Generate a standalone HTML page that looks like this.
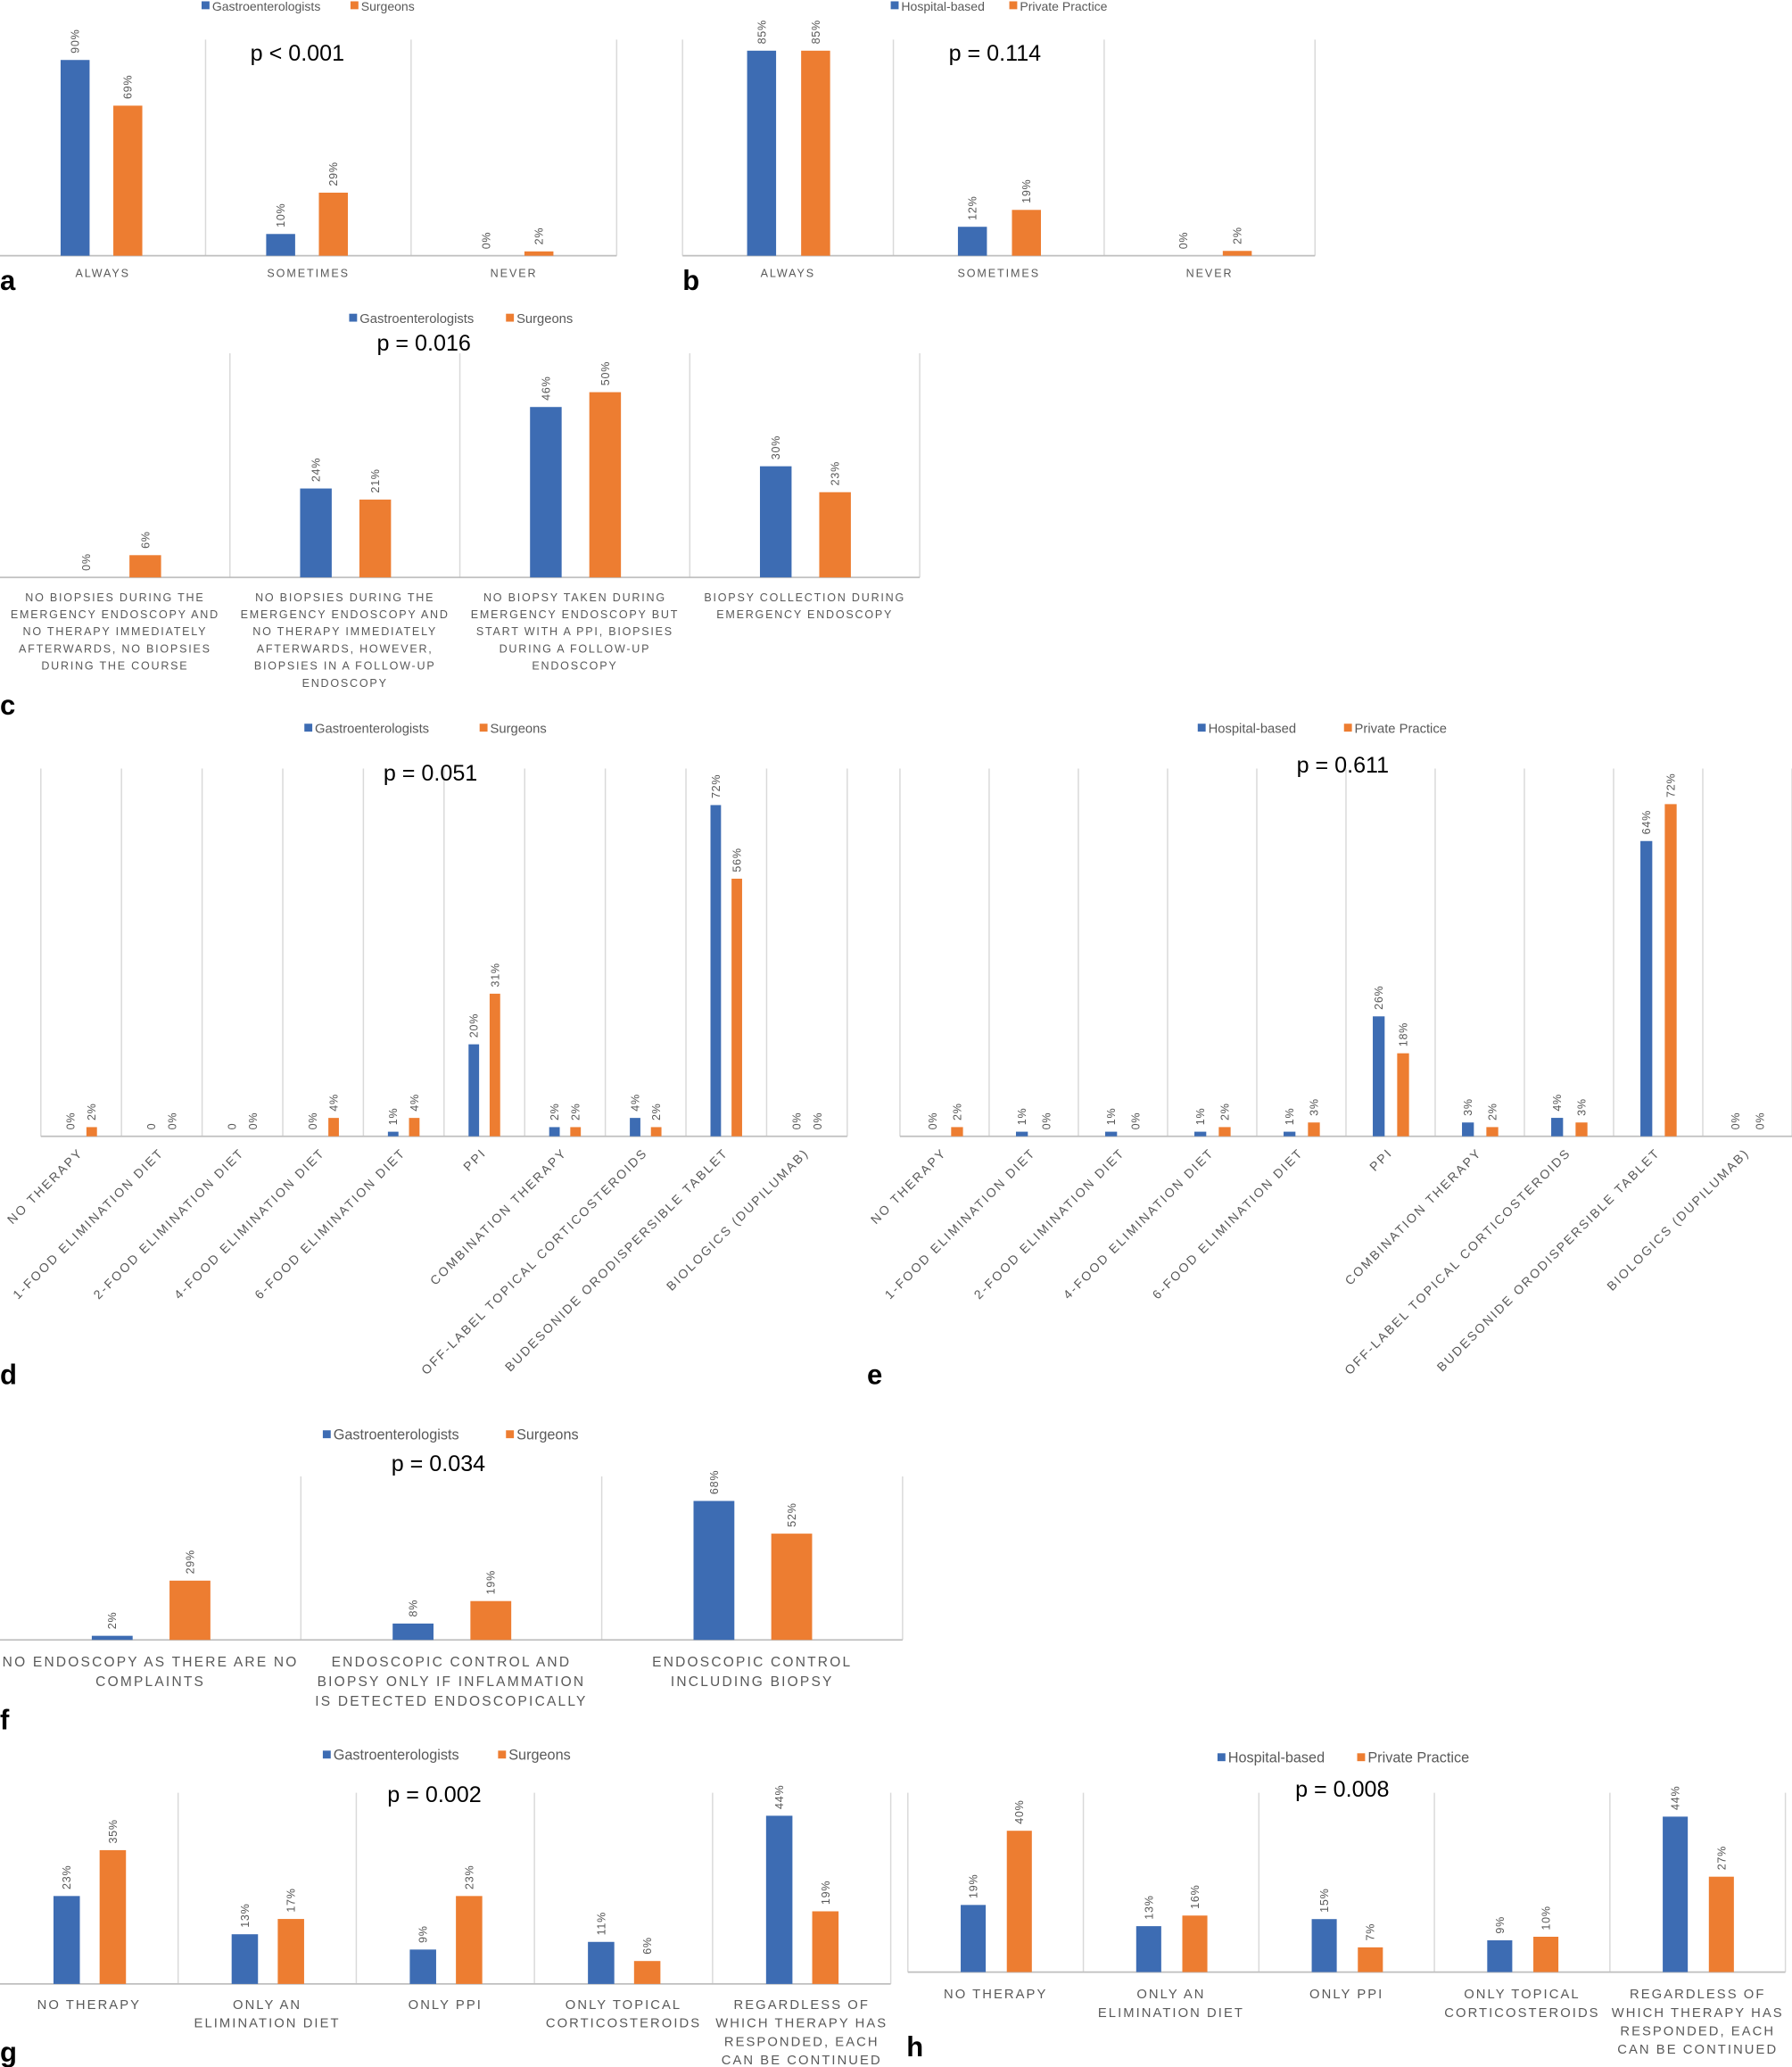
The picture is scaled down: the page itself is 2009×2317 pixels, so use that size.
<!DOCTYPE html>
<html><head><meta charset="utf-8"><style>
html,body{margin:0;padding:0;background:#fff;}
svg{display:block;font-family:"Liberation Sans",sans-serif;}
</style></head><body>
<svg id="fig" width="2009" height="2317" viewBox="0 0 1360 1568" preserveAspectRatio="none" xmlns="http://www.w3.org/2000/svg"></svg>
<script>
// ---- data ----
const aCats = ["ALWAYS","SOMETIMES","NEVER"];
const aBlue = [90,10,0];
const aOrange = [69,29,2];
const bCats = ["ALWAYS","SOMETIMES","NEVER"];
const bBlue = [85,12,0];
const bOrange = [85,19,2];
const cCats = ["NO BIOPSIES DURING THE|EMERGENCY ENDOSCOPY AND|NO THERAPY IMMEDIATELY|AFTERWARDS, NO BIOPSIES|DURING THE COURSE","NO BIOPSIES DURING THE|EMERGENCY ENDOSCOPY AND|NO THERAPY IMMEDIATELY|AFTERWARDS, HOWEVER,|BIOPSIES IN A FOLLOW-UP|ENDOSCOPY","NO BIOPSY TAKEN DURING|EMERGENCY ENDOSCOPY BUT|START WITH A PPI, BIOPSIES|DURING A FOLLOW-UP|ENDOSCOPY","BIOPSY COLLECTION DURING|EMERGENCY ENDOSCOPY"];
const cBlue = [0,24,46,30];
const cOrange = [6,21,50,23];
const dCats = ["NO THERAPY","1-FOOD ELIMINATION DIET","2-FOOD ELIMINATION DIET","4-FOOD ELIMINATION DIET","6-FOOD ELIMINATION DIET","PPI","COMBINATION THERAPY","OFF-LABEL TOPICAL CORTICOSTEROIDS","BUDESONIDE ORODISPERSIBLE TABLET","BIOLOGICS (DUPILUMAB)"];
const dBlue = [0,0,0,0,1,20,2,4,72,0];
const dOrange = [2,0,0,4,4,31,2,2,56,0];
const dBlueLabels = ["0%","0","0","0%","1%","20%","2%","4%","72%","0%"];
const eCats = dCats.slice();
const eBlue = [0,1,1,1,1,26,3,4,64,0];
const eOrange = [2,0,0,2,3,18,2,3,72,0];
const fCats = ["NO ENDOSCOPY AS THERE ARE NO|COMPLAINTS","ENDOSCOPIC CONTROL AND|BIOPSY ONLY IF INFLAMMATION|IS DETECTED ENDOSCOPICALLY","ENDOSCOPIC CONTROL|INCLUDING BIOPSY"];
const fBlue = [2,8,68];
const fOrange = [29,19,52];
const gCats = ["NO THERAPY","ONLY AN|ELIMINATION DIET","ONLY PPI","ONLY TOPICAL|CORTICOSTEROIDS","REGARDLESS OF|WHICH THERAPY HAS|RESPONDED, EACH|CAN BE CONTINUED"];
const gBlue = [23,13,9,11,44];
const gOrange = [35,17,23,6,19];
const hCats = gCats.slice();
const hBlue = [19,13,15,9,44];
const hOrange = [40,16,7,10,27];

const NS="http://www.w3.org/2000/svg";
const svg=document.getElementById('fig');
const BLUE="#3d6cb3", ORANGE="#ed7d31", GRID="#d9d9d9", GRAY="#595959";
function mk(tag,attrs,parent){const e=document.createElementNS(NS,tag);for(const k in attrs)e.setAttribute(k,attrs[k]);(parent||svg).appendChild(e);return e;}

function chart(o){
  const g=mk('g',{});
  
  
  const n=o.cats.length, cw=(o.x1-o.x0)/n;
  const xC=i=>o.x0+cw*(i+0.5);
  const yV=v=>o.axisY-v*o.scale/100;
  for(let i=(o.leftLine?0:1);i<=n;i++){
    const gl=mk('line',{x1:o.x0+cw*i,x2:o.x0+cw*i,y1:o.topY,y2:o.axisY,stroke:GRID,'stroke-width':1},g);
    
    
  }
  const ax=mk('line',{x1:o.x0,x2:o.x1,y1:o.axisY,y2:o.axisY,stroke:"#bfbfbf",'stroke-width':1.2},g);
  
  
  [[o.blue,BLUE,o.offB,o.blueLabels,'blue'],[o.orange,ORANGE,o.offO,null,'orange']].forEach(s=>{
    s[0].forEach((v,i)=>{
      const cx=xC(i)+s[2], y=yV(v);
      const r=mk('rect',{x:cx-o.bw/2,y:y,width:o.bw,height:o.axisY-y,fill:s[1]},g);
      
      
      const lbl=s[3]?s[3][i]:(v+'%');
      const t=mk('text',{x:0,y:0,transform:`translate(${cx+3},${y-5}) rotate(-90)`,'font-size':o.vfs||8.5,fill:GRAY,'letter-spacing':0.5},g);
      t.textContent=lbl;
      
      
    });
  });
  o.cats.forEach((c,i)=>{
    if(o.rotate){
      const t=mk('text',{transform:`translate(${xC(i)+2},${o.axisY+13}) rotate(-45)`,'text-anchor':'end','font-size':9.5,fill:GRAY,'letter-spacing':1.5},g);
      t.textContent=c;
      
      
    } else {
      c.split('|').forEach((ln,j)=>{
        const t=mk('text',{x:xC(i),y:o.axisY+o.ly+j*o.lh,'text-anchor':'middle','font-size':o.cfs||8.5,fill:GRAY,'letter-spacing':o.ls||1.3},g);
        t.textContent=ln;
        
        
      });
    }
  });
  const lg=mk('g',{},g);
  
  
  [[o.leg[0],BLUE,o.legX[0]],[o.leg[1],ORANGE,o.legX[1]]].forEach(L=>{
    const sq=mk('rect',{x:L[2],y:o.legY-7,width:6,height:6,fill:L[1]},lg);
    
    
    const t=mk('text',{x:L[2]+8,y:o.legY,'font-size':o.lfs||10,fill:GRAY},lg);
    t.textContent=L[0];
    
    
  });
  const p=mk('text',{x:o.pX,y:o.pY,'font-size':17,fill:"#000"},g);
  p.textContent=o.p;
  
  
  const pl=mk('text',{x:o.plX,y:o.plY,'font-size':21,'font-weight':'bold',fill:"#000"},g);
  pl.textContent=o.id;
  
  
}
const GS=["Gastroenterologists","Surgeons"], HP=["Hospital-based","Private Practice"];
chart({id:'a',cats:aCats,blue:aBlue,orange:aOrange,x0:0,x1:468,axisY:194,topY:30,scale:165,bw:22,offB:-21,offO:19,ly:16,lh:13,leg:GS,legX:[153,266],legY:8,lfs:9.5,p:"p < 0.001",pX:190,pY:46,plX:0,plY:220});
chart({id:'b',cats:bCats,blue:bBlue,orange:bOrange,x0:518,x1:998,axisY:194,topY:30,scale:183,bw:22,offB:-20,offO:21,leftLine:true,ly:16,lh:13,leg:HP,legX:[676,766],legY:8,lfs:9.5,p:"p = 0.114",pX:720,pY:46,plX:518,plY:220});
chart({id:'c',cats:cCats,blue:cBlue,orange:cOrange,x0:0,x1:698,axisY:438,topY:268,scale:281,bw:24,offB:-22,offO:23,ly:18,lh:13,leg:GS,legX:[265,384],legY:245,p:"p = 0.016",pX:286,pY:266,plX:0,plY:542,ls:1.2});
chart({id:'d',cats:dCats,blue:dBlue,orange:dOrange,blueLabels:dBlueLabels,x0:31,x1:643,axisY:862,topY:583,scale:349,bw:8,offB:-8,offO:8,leftLine:true,rotate:true,leg:GS,legX:[231,364],legY:556,p:"p = 0.051",pX:291,pY:592,plX:0,plY:1050});
chart({id:'e',cats:eCats,blue:eBlue,orange:eOrange,x0:683,x1:1360,axisY:862,topY:583,scale:350,bw:9,offB:-9,offO:9.5,leftLine:true,rotate:true,leg:HP,legX:[909,1020],legY:556,p:"p = 0.611",pX:984,pY:586,plX:658,plY:1050});
chart({id:'f',cats:fCats,blue:fBlue,orange:fOrange,x0:0,x1:685,axisY:1244,topY:1120,scale:155,bw:31,offB:-29,offO:30,ly:20,lh:15,cfs:10.5,ls:1.5,leg:GS,legX:[245,384],legY:1092,lfs:11,p:"p = 0.034",pX:297,pY:1116,plX:0,plY:1312});
chart({id:'g',cats:gCats,blue:gBlue,orange:gOrange,x0:0,x1:676,axisY:1505,topY:1360,scale:290,bw:20,offB:-17,offO:18,ly:19,lh:14,cfs:10,ls:1.4,leg:GS,legX:[245,378],legY:1335,lfs:11,p:"p = 0.002",pX:294,pY:1367,plX:0,plY:1564});
chart({id:'h',cats:hCats,blue:hBlue,orange:hOrange,x0:689,x1:1355,axisY:1496,topY:1360,scale:268,bw:19,offB:-17,offO:18,leftLine:true,ly:20,lh:14,cfs:10,ls:1.4,leg:HP,legX:[924,1030],legY:1337,lfs:11,p:"p = 0.008",pX:983,pY:1363,plX:688,plY:1560});
</script>
</body></html>
